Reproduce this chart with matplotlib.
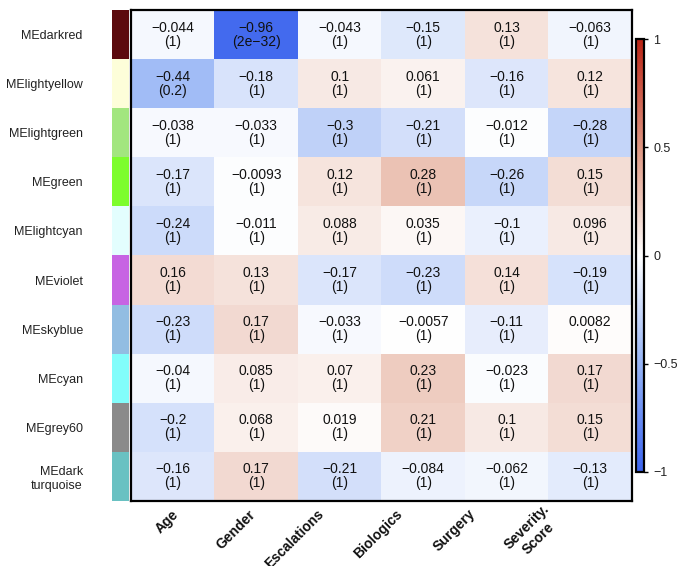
import numpy as np
import matplotlib.pyplot as plt
from matplotlib.colors import LinearSegmentedColormap, ListedColormap
from matplotlib.transforms import ScaledTranslation

plt.rcParams["font.family"] = ["Liberation Sans", "DejaVu Sans"]

modules = ["MEdarkred", "MElightyellow", "MElightgreen", "MEgreen", "MElightcyan",
           "MEviolet", "MEskyblue", "MEcyan", "MEgrey60", "MEdark\nturquoise"]
module_colors = ["#5c0a0d", "#fdfed9", "#a2e67f", "#7dfd2c", "#e3fefe",
                 "#c764e3", "#92bde2", "#82fdfb", "#8a8a8a", "#69c1c2"]
traits = ["Age", "Gender", "Escalations", "Biologics", "Surgery", "Severity.\nScore"]

cor = np.array([
    [-0.044, -0.96, -0.043, -0.15, 0.13, -0.063],
    [-0.44, -0.18, 0.1, 0.061, -0.16, 0.12],
    [-0.038, -0.033, -0.3, -0.21, -0.012, -0.28],
    [-0.17, -0.0093, 0.12, 0.28, -0.26, 0.15],
    [-0.24, -0.011, 0.088, 0.035, -0.1, 0.096],
    [0.16, 0.13, -0.17, -0.23, 0.14, -0.19],
    [-0.23, 0.17, -0.033, -0.0057, -0.11, 0.0082],
    [-0.04, 0.085, 0.07, 0.23, -0.023, 0.17],
    [-0.2, 0.068, 0.019, 0.21, 0.1, 0.15],
    [-0.16, 0.17, -0.21, -0.084, -0.062, -0.13],
])
pval = [
    ["1", "2e-32", "1", "1", "1", "1"],
    ["0.2", "1", "1", "1", "1", "1"],
    ["1", "1", "1", "1", "1", "1"],
    ["1", "1", "1", "1", "1", "1"],
    ["1", "1", "1", "1", "1", "1"],
    ["1", "1", "1", "1", "1", "1"],
    ["1", "1", "1", "1", "1", "1"],
    ["1", "1", "1", "1", "1", "1"],
    ["1", "1", "1", "1", "1", "1"],
    ["1", "1", "1", "1", "1", "1"],
]

def fmt(v):
    return ("%g" % v).replace("-", "\u2212")

# blue - white - red, a bit softer on the red side
cmap = LinearSegmentedColormap.from_list("bwr_wgcna", [
    (0.0, (60/255, 100/255, 238/255)),
    (0.25, (150/255, 180/255, 245/255)),
    (0.5, (1, 1, 1)),
    (0.625, (237/255, 200/255, 187/255)),
    (0.75, (222/255, 150/255, 130/255)),
    (1.0, (185/255, 35/255, 20/255)),
])

fig = plt.figure(figsize=(6.78, 5.66), dpi=100)
W, H = 678, 566
ax = fig.add_axes([131 / W, 1 - 501 / H, 501 / W, 491 / H])
sax = fig.add_axes([112 / W, 1 - 501 / H, 17 / W, 491 / H])
cax = fig.add_axes([636 / W, 1 - 472 / H, 8 / W, 433 / H])

nr, nc = cor.shape
im = ax.imshow(cor, cmap=cmap, vmin=-1, vmax=1, aspect="auto")
for i in range(nr):
    for j in range(nc):
        ax.text(j, i, fmt(cor[i, j]) + "\n(" + pval[i][j].replace("-", "\u2212") + ")",
                ha="center", va="center", fontsize=10, linespacing=1.0,
                color="#111111")
ax.set_xticks(range(nc))
ax.set_xticklabels(traits, rotation=45, ha="right", va="center",
                   rotation_mode="anchor", multialignment="center",
                   fontsize=10, fontweight="bold", color="#111111")
ax.tick_params(axis="x", length=0, pad=8)
# labels sit on a slightly tighter spacing than the columns
shift_px = [4, -3, -18, -23, -34, -37]
for lab, dx in zip(ax.get_xticklabels(), shift_px):
    lab.set_transform(lab.get_transform() +
                      ScaledTranslation(dx / 100, 0, fig.dpi_scale_trans))
ax.set_yticks([])
for s in ax.spines.values():
    s.set_linewidth(1.6)

# module colour strip
sax.imshow(np.arange(nr).reshape(-1, 1), cmap=ListedColormap(module_colors),
           aspect="auto")
sax.set_xticks([])
sax.set_yticks(range(nr))
sax.set_yticklabels(modules, fontsize=9, color="#222222")
sax.tick_params(axis="y", length=0, pad=21)
for s in sax.spines.values():
    s.set_visible(False)

cb = fig.colorbar(im, cax=cax, ticks=[-1, -0.5, 0, 0.5, 1])
cb.ax.set_yticklabels(["\u22121", "\u22120.5", "0", "0.5", "1"],
                      fontsize=9, color="#222222")
cb.ax.tick_params(length=3, width=1)
cb.outline.set_linewidth(1.6)

fig.savefig("out.png", dpi=100)
